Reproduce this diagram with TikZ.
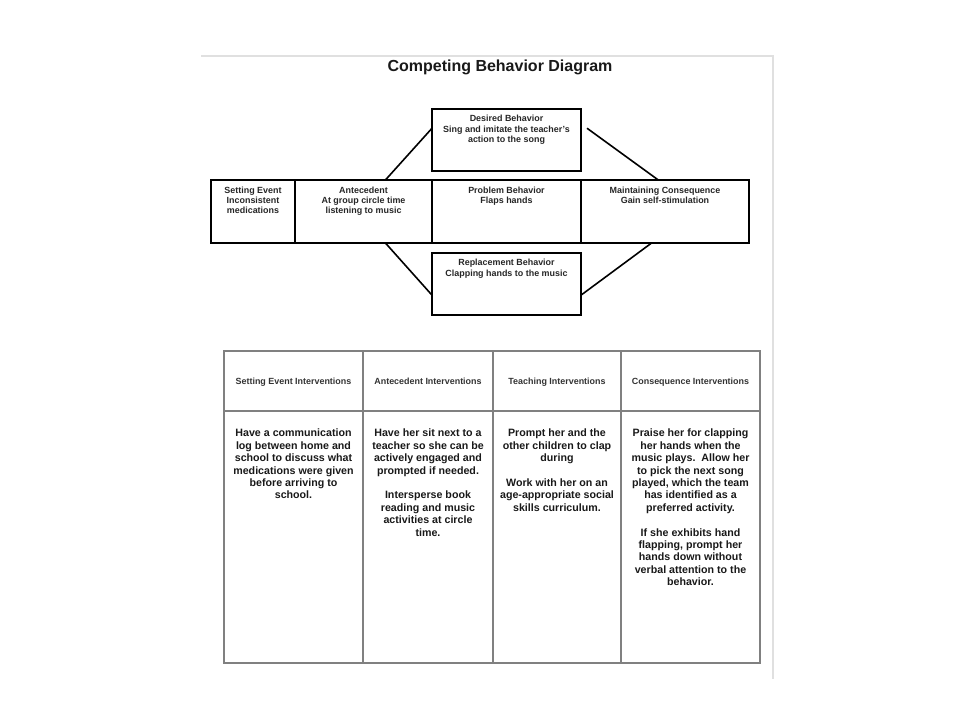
\documentclass[tikz,border=0pt]{standalone}
\usepackage{fontspec}
\setmainfont{Liberation Sans}
\usetikzlibrary{calc}
\tikzset{
  box/.style={draw=black, line width=1.2pt, inner sep=0pt, outer sep=0pt},
  link/.style={draw=black, line width=1.2pt},
  boxtext/.style={anchor=north, align=center, inner sep=0pt, text=black!85, font=\fontsize{6.7}{7.7}\selectfont\bfseries},
  cell/.style={draw=black!50, line width=0.9pt, inner sep=0pt, outer sep=0pt},
  hdrtext/.style={anchor=base, inner sep=0pt, font=\fontsize{6.7}{8}\selectfont\bfseries, text=black!80},
  celltext/.style={anchor=north, align=center, inner sep=0pt, text=black!90, font=\fontsize{8}{9.3}\selectfont\bfseries}
}

\begin{document}
\begin{tikzpicture}[x=0.75pt,y=-0.75pt]
  \useasboundingbox (0,0) rectangle (960,720);
  \draw[black!12, line width=0.8pt] (201,56) -- (773,56) -- (773,679);
  \node[font=\fontsize{12}{14}\selectfont\bfseries, text=black!90] (title) at (500,67) {Competing Behavior Diagram};

  % diagram
  \node[box, minimum width=63pt, minimum height=47.25pt] (setting) at (253,211.5) {};
  \node[box, minimum width=102.75pt, minimum height=47.25pt] (ante) at (363.5,211.5) {};
  \node[box, minimum width=111.75pt, minimum height=47.25pt] (problem) at (506.5,211.5) {};
  \node[box, minimum width=126pt, minimum height=47.25pt] (maint) at (665,211.5) {};
  \node[box, minimum width=111.75pt, minimum height=46.5pt] (desired) at (506.5,140) {};
  \node[box, minimum width=111.75pt, minimum height=46.5pt] (repl) at (506.5,284) {};

  \node[boxtext] (settingtxt) at ([yshift=-4.8pt]setting.north) {Setting Event\\Inconsistent\\medications};
  \node[boxtext] (antetxt) at ([yshift=-4.8pt]ante.north) {Antecedent\\At group circle time\\listening to music};
  \node[boxtext] (problemtxt) at ([yshift=-4.8pt]problem.north) {Problem Behavior\\Flaps hands};
  \node[boxtext] (mainttxt) at ([yshift=-4.8pt]maint.north) {Maintaining Consequence\\Gain self-stimulation};
  \node[boxtext] (desiredtxt) at ([yshift=-4.6pt]desired.north) {Desired Behavior\\Sing and imitate the teacher's\\action to the song};
  \node[boxtext] (repltxt) at ([yshift=-4.6pt]repl.north) {Replacement Behavior\\Clapping hands to the music};

  \draw[link] ($(ante.north west)!0.66!(ante.north east)$) -- ($(desired.north west)!0.31!(desired.south west)$);
  \draw[link] ([xshift=4.5pt]$(desired.north east)!0.31!(desired.south east)$) -- ($(maint.north west)!0.46!(maint.north east)$);
  \draw[link] ($(ante.south west)!0.66!(ante.south east)$) -- ($(repl.north west)!0.68!(repl.south west)$);
  \draw[link] ($(maint.south west)!0.42!(maint.south east)$) -- ($(repl.north east)!0.68!(repl.south east)$);

  % interventions table
  \foreach \n/\xl/\xr/\hd in {1/224/363/Setting Event Interventions, 2/363/493/Antecedent Interventions,
      3/493/621/Teaching Interventions, 4/621/760/Consequence Interventions}{
    \node[cell, minimum width={(\xr-\xl)*0.75pt}, minimum height=45pt] (hdr\n) at ({(\xl+\xr)/2},381) {};
    \node[hdrtext] (hdrtxt\n) at ([yshift=-2.4pt]hdr\n.center) {\hd};
    \node[cell, minimum width={(\xr-\xl)*0.75pt}, minimum height=189pt] (body\n) at ({(\xl+\xr)/2},537) {};
  }
  \node[celltext] (bodytxt1) at ([yshift=-13.4pt]body1.north) {Have a communication\\log between home and\\school to discuss what\\medications were given\\before arriving to\\school.};
  \node[celltext] (bodytxt2) at ([yshift=-13.4pt]body2.north) {Have her sit next to a\\teacher so she can be\\actively engaged and\\prompted if needed.\\[9.3pt]Intersperse book\\reading and music\\activities at circle\\time.};
  \node[celltext] (bodytxt3) at ([yshift=-13.4pt]body3.north) {Prompt her and the\\other children to clap\\during\\[9.3pt]Work with her on an\\age-appropriate social\\skills curriculum.};
  \node[celltext] (bodytxt4) at ([yshift=-13.4pt]body4.north) {Praise her for clapping\\her hands when the\\music plays.\ \ Allow her\\to pick the next song\\played, which the team\\has identified as a\\preferred activity.\\[9.3pt]If she exhibits hand\\flapping, prompt her\\hands down without\\verbal attention to the\\behavior.};
\end{tikzpicture}
\end{document}
